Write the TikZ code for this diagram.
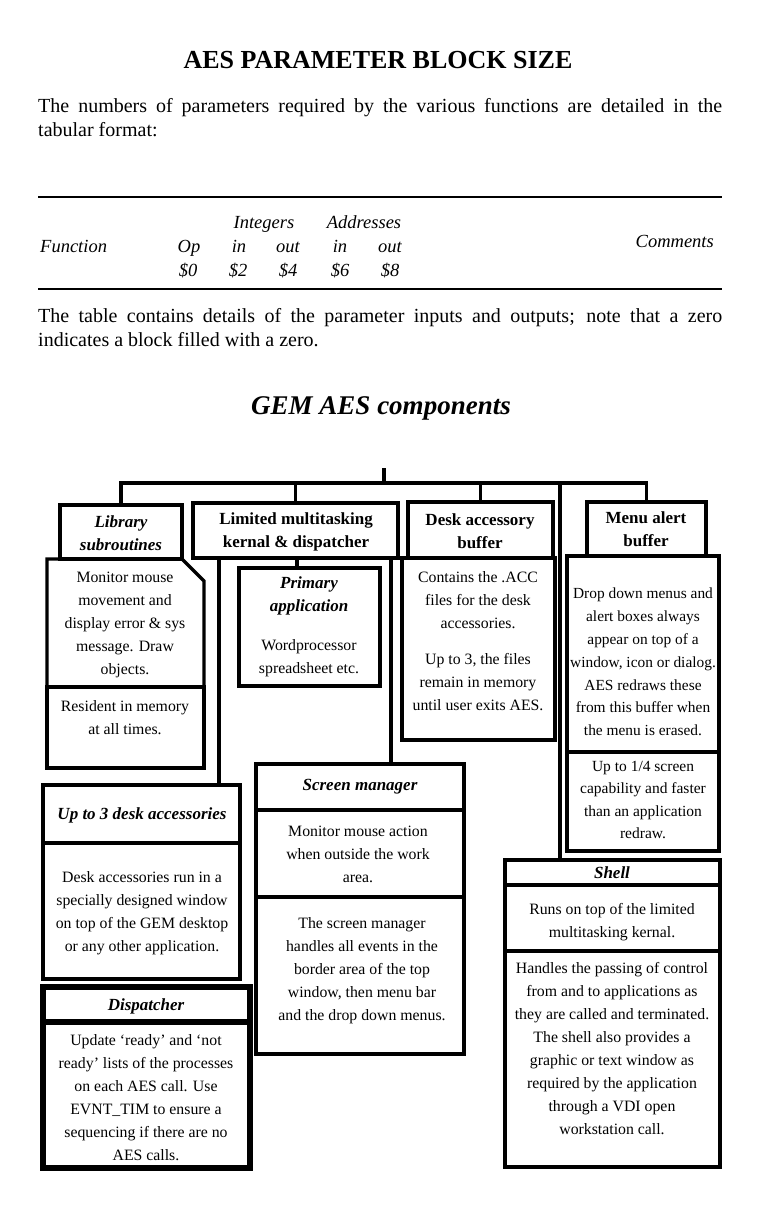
\documentclass[tikz,border=0pt]{standalone}
\usepackage{fontspec}
\setmainfont{Liberation Serif}
\usetikzlibrary{calc}
\newcommand\mkbox[6][]{\node[bx,#1,minimum width={(#5-#3)*1pt},minimum height={(#6-#4)*1pt}] (#2) at ({(#3+#5)/2},{(#4+#6)/2}) {};}
\begin{document}
\begin{tikzpicture}[x=1pt,y=-1pt,
  bx/.style={draw,line width=3.4pt,inner sep=0pt,outer sep=0pt,line join=miter},
  ln/.style={line width=3.2pt,line cap=rect},
  thk/.style={line width=6pt},
  hd/.style={font=\fontsize{17}{23}\selectfont\bfseries\itshape,align=center,inner sep=0pt},
  hdu/.style={font=\fontsize{17}{23}\selectfont\bfseries,align=center,inner sep=0pt},
  tx/.style={font=\fontsize{15.8}{23}\selectfont,align=center,inner sep=0pt},
  tab/.style={font=\fontsize{18.5}{23}\selectfont\itshape,inner sep=0pt,anchor=base},
  para/.style={font=\fontsize{20}{24}\selectfont,inner sep=0pt,anchor=base west},
  rulel/.style={line width=1.4pt}]
\fill[white] (0,0) rectangle (759,1231);
\useasboundingbox (0,0) rectangle (759,1231);

% ---- header text ----
\node[font=\fontsize{26}{30}\selectfont\bfseries,anchor=base,inner sep=0pt] (title) at (378,68) {AES PARAMETER BLOCK SIZE};
\node[para] (p1a) at (38,112) {\makebox[684pt][s]{The numbers of parameters required by the various functions are detailed in the}};
\node[para] (p1b) at (38,136) {tabular format:};

\draw[rulel] (38,197) coordinate (r1a) -- (722,197) coordinate (r1b);
\draw[rulel] (38,289) coordinate (r2a) -- (722,289) coordinate (r2b);
\node[tab] (hint) at (264,228) {Integers};
\node[tab] (hadr) at (364,228) {Addresses};
\node[tab,anchor=base west] (hfun) at (40,252) {Function};
\node[tab] (hop) at (189,252) {Op};
\node[tab] (hin1) at (239,252) {in};
\node[tab] (hout1) at (288,252) {out};
\node[tab] (hin2) at (340,252) {in};
\node[tab] (hout2) at (390,252) {out};
\node[tab,anchor=base east] (hcom) at (714,247) {Comments};
\node[tab] (d0) at (188,276) {\$0};
\node[tab] (d2) at (238,276) {\$2};
\node[tab] (d4) at (288,276) {\$4};
\node[tab] (d6) at (340,276) {\$6};
\node[tab] (d8) at (390,276) {\$8};

\node[para] (p2a) at (38,322) {\makebox[684pt][s]{The table contains details of the parameter inputs and outputs; note that a zero}};
\node[para] (p2b) at (38,346) {indicates a block filled with a zero.};

\node[font=\fontsize{27}{30}\selectfont\bfseries\itshape,anchor=base,inner sep=0pt] (gem) at (381,414) {GEM AES components};

% ---- boxes ----
\mkbox{libhead}{60}{505}{182}{559}
\mkbox{libres}{47}{687}{204}{768}
\draw[bx] (libres.north west) -- (libres.north west |- libhead.south) -- (libhead.south east) -- ($(libres.north east |- libhead.south)+(0,22)$) -- (libres.north east);
\mkbox{limhead}{193}{503}{398}{558}
\mkbox{prim}{239}{568}{380}{686}
\mkbox{deskhead}{408}{502}{553}{558}
\mkbox{deskbody}{402}{558}{555}{740}
\mkbox{menuhead}{587}{502}{706}{556}
\mkbox{menubody}{567}{556}{719}{752}
\mkbox{menulow}{567}{752}{719}{851}
\mkbox{uphead}{43}{785}{240}{843}
\mkbox{upbody}{43}{843}{240}{979}
\mkbox[thk]{disphead}{43}{987}{250}{1022}
\mkbox[thk]{dispbody}{43}{1022}{250}{1168}
\mkbox{scrhead}{256}{764}{464}{810}
\mkbox{scrmid}{256}{810}{464}{897}
\mkbox{scrlow}{256}{897}{464}{1054}
\mkbox{shellhead}{505}{860}{720}{885}
\mkbox{shellmid}{505}{885}{720}{951}
\mkbox{shelllow}{505}{951}{720}{1167}

% ---- connectors ----
\coordinate (stub) at (384,470);
\coordinate (bus) at (384,483);
\coordinate (tapS) at (560,483);
\coordinate (pstub) at (297,558);
\coordinate (kl) at (219,558);
\coordinate (kr) at (391,558);
\draw[ln] (stub) -- (bus);
\draw[ln,line cap=butt] (libhead.north) -- (libhead.north |- bus) -- (menuhead.north |- bus) -- (menuhead.north);
\draw[ln] (limhead.north |- bus) -- (limhead.north);
\draw[ln] (deskhead.north |- bus) -- (deskhead.north);
\draw[ln] (tapS) -- (tapS |- shellhead.north);
\draw[ln] (pstub) -- (pstub |- prim.north);
\draw[ln] (kl) -- (kl |- uphead.north);
\draw[ln] (kr) -- (kr |- scrhead.north);

% ---- box texts ----
\node[hd] (tlibh) at (121,533) {Library\\subroutines};
\node[tx] (tlib) at (125,625) {Monitor mouse\\movement and\\display error \& sys\\message. Draw\\objects.};
\node[tx] (tres) at (125,718) {Resident in memory\\at all times.};
\node[hdu] (tlim) at (296,532) {Limited multitasking\\kernal \& dispatcher};
\node[hd] (tprimh) at (309,596) {Primary\\application};
\node[tx] (tprim) at (309,658) {Wordprocessor\\spreadsheet etc.};
\node[hdu] (tdeskh) at (480,531) {Desk accessory\\buffer};
\node[tx] (tdesk1) at (478,600) {Contains the .ACC\\files for the desk\\accessories.};
\node[tx] (tdesk2) at (478,682) {Up to 3, the files\\remain in memory\\until user exits AES.};
\node[hdu] (tmenuh) at (646,529) {Menu alert\\buffer};
\node[tx,font=\fontsize{15.4}{22.8}\selectfont] (tmenu) at (643,662) {Drop down menus and\\alert boxes always\\appear on top of a\\window, icon or dialog.\\AES redraws these\\from this buffer when\\the menu is erased.};
\node[tx,font=\fontsize{15.5}{22.5}\selectfont] (tmenul) at (643,800) {Up to 1/4 screen\\capability and faster\\than an application\\redraw.};
\node[hd] (tuph) at (142,815) {Up to 3 desk accessories};
\node[tx] (tup) at (142,913) {Desk accessories run in a\\specially designed window\\on top of the GEM desktop\\or any other application.};
\node[hd] (tdisph) at (146,1006) {Dispatcher};
\node[tx] (tdisp) at (146,1098) {Update ‘ready’ and ‘not\\ready’ lists of the processes\\on each AES call. Use\\EVNT\_TIM to ensure a\\sequencing if there are no\\AES calls.};
\node[hd] (tscrh) at (360,787) {Screen manager};
\node[tx] (tscr1) at (358,854) {Monitor mouse action\\when outside the work\\area.};
\node[tx] (tscr2) at (362,971) {The screen manager\\handles all events in the\\border area of the top\\window, then menu bar\\and the drop down menus.};
\node[hd] (tshellh) at (612,873) {Shell};
\node[tx] (tshell1) at (612,922) {Runs on top of the limited\\multitasking kernal.};
\node[tx] (tshell2) at (612,1049) {Handles the passing of control\\from and to applications as\\they are called and terminated.\\The shell also provides a\\graphic or text window as\\required by the application\\through a VDI open\\workstation call.};
\end{tikzpicture}
\end{document}
